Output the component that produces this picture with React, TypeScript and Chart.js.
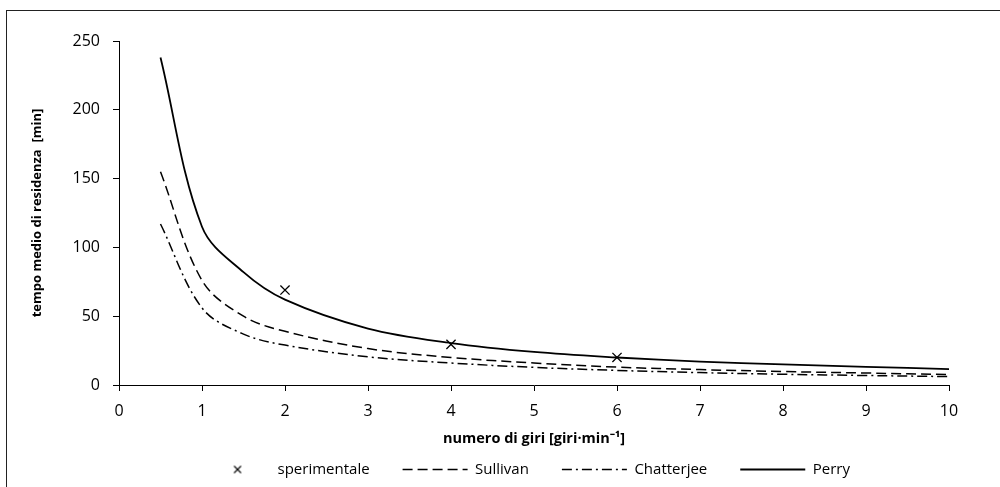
import React, { useEffect, useRef } from "react";
import { Chart, registerables } from "chart.js";

Chart.register(...registerables);

// ---- data ----
const xValues = [0.5, 1, 1.5, 2, 3, 4, 5, 6, 7, 8, 9, 10];
const sullivan = [155, 76, 50, 39, 26.5, 20, 16, 13, 11.2, 9.8, 8.7, 7.6];
const chatterjee = [117, 56, 37, 29, 20.5, 16, 12.8, 10.6, 9, 7.8, 6.9, 6.1];
const perry = [238, 115, 82, 62, 41, 30.5, 24, 20, 17, 15, 13.2, 11.6];
const expX = [2, 4, 6];
const expY = [69, 29.5, 20];
const xTicks = [0, 1, 2, 3, 4, 5, 6, 7, 8, 9, 10];
const yTicks = [0, 50, 100, 150, 200, 250];

const seriesNames = ["sperimentale", "Sullivan", "Chatterjee", "Perry"];
const xTitle = "numero di giri [giri·min⁻¹]";
const yTitle = "tempo medio di residenza  [min]";

const FONT = "'Open Sans', sans-serif";

function toPoints(xs: number[], ys: number[]) {
  return xs.map((x, i) => ({ x, y: ys[i] }));
}

function makeCrossIcon(): HTMLCanvasElement {
  const c = document.createElement("canvas");
  c.width = 10;
  c.height = 10;
  const g = c.getContext("2d")!;
  g.strokeStyle = "#000";
  g.lineWidth = 1.1;
  g.beginPath();
  g.moveTo(1.5, 1.5);
  g.lineTo(8.5, 8.5);
  g.moveTo(8.5, 1.5);
  g.lineTo(1.5, 8.5);
  g.stroke();
  return c;
}

export default function App() {
  const ref = useRef<HTMLCanvasElement | null>(null);

  useEffect(() => {
    if (!ref.current) return;
    const crossIcon = makeCrossIcon();
    const chart = new Chart(ref.current, {
      type: "line",
      data: {
        datasets: [
          {
            label: seriesNames[0],
            data: toPoints(expX, expY),
            showLine: false,
            pointStyle: "crossRot",
            pointRadius: 6.5,
            pointBorderWidth: 1.3,
            borderColor: "#000",
            backgroundColor: "#000",
          },
          {
            label: seriesNames[1],
            data: toPoints(xValues, sullivan),
            borderColor: "#000",
            borderWidth: 1.5,
            borderDash: [10, 5],
            pointRadius: 0,
            tension: 0.35,
          },
          {
            label: seriesNames[2],
            data: toPoints(xValues, chatterjee),
            borderColor: "#000",
            borderWidth: 1.5,
            borderDash: [10, 4, 2, 4],
            pointRadius: 0,
            tension: 0.35,
          },
          {
            label: seriesNames[3],
            data: toPoints(xValues, perry),
            borderColor: "#000",
            borderWidth: 1.8,
            pointRadius: 0,
            tension: 0.35,
          },
        ],
      },
      options: {
        animation: false,
        responsive: false,
        layout: { padding: { left: 60, right: 5, top: 41, bottom: 0 } },
        scales: {
          x: {
            type: "linear",
            min: 0,
            max: 10,
            afterBuildTicks: (s: any) => {
              s.ticks = xTicks.map((v) => ({ value: v }));
            },
            afterFit: (s: any) => {
              s.height = 44;
            },
            grid: {
              drawOnChartArea: false,
              drawTicks: true,
              tickLength: 6,
              color: "#000",
              lineWidth: 1,
            },
            border: { display: true, color: "#000", width: 1 },
            ticks: {
              color: "#000",
              padding: 11,
              maxRotation: 0,
              font: { family: FONT, size: 16 },
            },
            title: {
              display: true,
              text: xTitle,
              color: "#000",
              font: { family: FONT, size: 14.5, weight: "bold" },
              padding: { top: 0, bottom: -18.7 },
            },
          },
          y: {
            type: "linear",
            position: "left",
            min: 0,
            max: 250,
            afterBuildTicks: (s: any) => {
              s.ticks = yTicks.map((v) => ({ value: v }));
            },
            afterFit: (s: any) => {
              s.width = 59;
            },
            grid: {
              drawOnChartArea: false,
              drawTicks: true,
              tickLength: 6,
              color: "#000",
              lineWidth: 1,
            },
            border: { display: true, color: "#000", width: 1 },
            ticks: {
              color: "#000",
              padding: 13,
              font: { family: FONT, size: 16 },
            },
            title: {
              display: true,
              text: yTitle,
              color: "#000",
              font: { family: FONT, size: 13, weight: "bold" },
              padding: { top: -30.8, bottom: 0 },
            },
          },
          yRightSpacer: {
            type: "linear",
            position: "right",
            display: true,
            min: 0,
            max: 250,
            afterFit: (s: any) => {
              s.width = 46;
            },
            grid: { display: false, drawTicks: false },
            border: { display: false },
            ticks: { display: false },
            title: { display: false },
          },
        },
        plugins: {
          tooltip: { enabled: false },
          legend: {
            position: "bottom",
            align: "center",
            labels: {
              usePointStyle: true,
              pointStyleWidth: 65,
              padding: 33,
              color: "#000",
              font: { family: FONT, size: 15 },
              generateLabels: (ch: any) =>
                ch.data.datasets.map((ds: any, i: number) => ({
                  text: ds.label,
                  datasetIndex: i,
                  fillStyle: "#000",
                  strokeStyle: "#000",
                  fontColor: "#000",
                  lineWidth: i === 0 ? 1 : ds.borderWidth,
                  lineDash: i === 0 ? [] : ds.borderDash || [],
                  pointStyle: i === 0 ? crossIcon : "line",
                  hidden: false,
                })),
            },
          },
        },
      },
    });
    return () => chart.destroy();
  }, []);

  return (
    <div
      style={{
        position: "fixed",
        left: 0,
        top: 0,
        width: 1000,
        height: 487,
        background: "#fff",
        overflow: "hidden",
      }}
    >
      <div
        style={{
          position: "absolute",
          left: 6,
          top: 10,
          width: 1000,
          height: 490,
          borderLeft: "1.5px solid #222",
          borderTop: "1.5px solid #222",
          boxSizing: "border-box",
        }}
      />
      <canvas
        ref={ref}
        width={1000}
        height={487}
        style={{ position: "absolute", left: 0, top: 0 }}
      />
    </div>
  );
}
